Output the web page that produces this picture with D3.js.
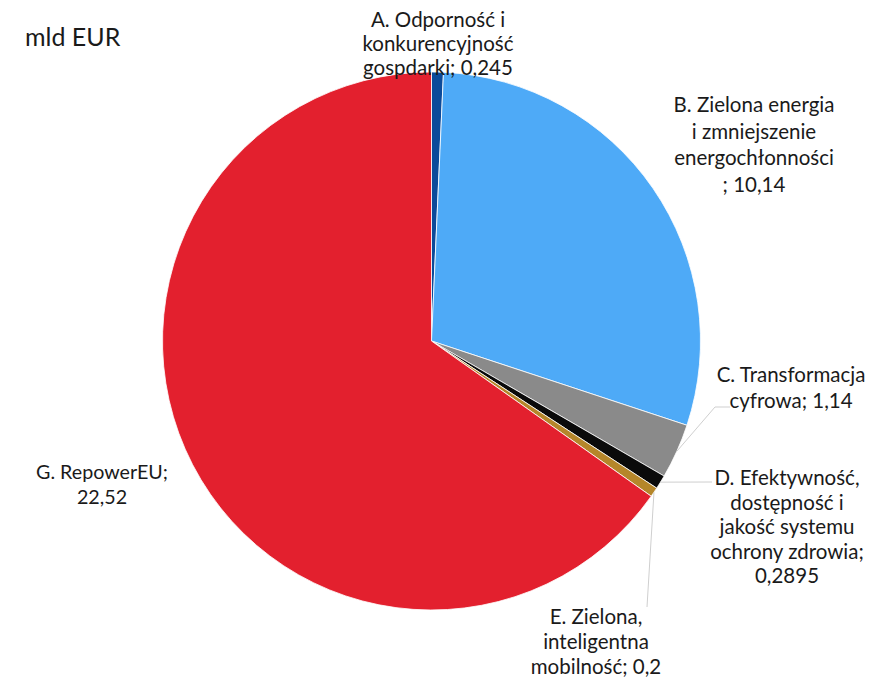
<!DOCTYPE html>
<html>
<head>
<meta charset="utf-8">
<script src="https://cdn.jsdelivr.net/npm/d3@7"></script>
<style>
  html, body { margin: 0; padding: 0; background: #fff; }
  svg { display: block; }
  text { font-family: Lato, "Open Sans", sans-serif; fill: #1a1a1a; }
</style>
</head>
<body>
<svg id="chart" width="877" height="677"></svg>
<script>
// Funding by component, bn EUR
const categories = [
  "A. Odporność i konkurencyjność gospdarki",
  "B. Zielona energia i zmniejszenie energochłonności",
  "C. Transformacja cyfrowa",
  "D. Efektywność, dostępność i jakość systemu ochrony zdrowia",
  "E. Zielona, inteligentna mobilność",
  "G. RepowerEU"
];
const values = [0.245, 10.14, 1.14, 0.2895, 0.2, 22.52];
const valueLabels = ["0,245", "10,14", "1,14", "0,2895", "0,2", "22,52"];
const labelLines = [
  ["A. Odporność i", "konkurencyjność", "gospdarki; 0,245"],
  ["B. Zielona energia", "i zmniejszenie", "energochłonności", "; 10,14"],
  ["C. Transformacja", "cyfrowa; 1,14"],
  ["D. Efektywność,", "dostępność i", "jakość systemu", "ochrony zdrowia;", "0,2895"],
  ["E. Zielona,", "inteligentna", "mobilność; 0,2"],
  ["G. RepowerEU;", "22,52"]
];
const unitTitle = "mld EUR";

// styling and layout
const colors = ["#0b4a9a", "#4eaaf7", "#8a8a8a", "#0a0a0a", "#b5862a", "#e3202e"];
const cx = 431.5, cy = 341, radius = 269;
// label anchor (centre x, first-line baseline y), line height, font size, leader elbow
const labelLayout = [
  { x: 438, y: 27, lh: 24, fs: 20.5, leader: null },
  { x: 754, y: 112, lh: 26.5, fs: 20.5, leader: null },
  { x: 791, y: 382, lh: 26, fs: 20.5, leader: [[730, 407], [715, 407]] },
  { x: 787, y: 485, lh: 24.5, fs: 20.5, leader: [[712, 482]] },
  { x: 596, y: 624, lh: 25, fs: 20.5, leader: [[647, 607]] },
  { x: 102, y: 479, lh: 25, fs: 19.7, leader: null }
];

const svg = d3.select("#chart");

svg.append("text")
  .attr("x", 25).attr("y", 46)
  .attr("font-size", 25)
  .text(unitTitle);

const pie = d3.pie().sort(null).value(d => d)
  .startAngle(0).endAngle(2 * Math.PI);
const arcs = pie(values);

const arc = d3.arc().innerRadius(0).outerRadius(radius);
const edgeArc = d3.arc().innerRadius(radius).outerRadius(radius);

const g = svg.append("g").attr("transform", `translate(${cx},${cy})`);

g.selectAll("path.slice")
  .data(arcs)
  .join("path")
  .attr("class", "slice")
  .attr("d", arc)
  .attr("fill", (d, i) => colors[i])
  .attr("stroke", "#ffffff")
  .attr("stroke-width", 0.8)
  .attr("stroke-linejoin", "round");

// leader lines from slice edge to label
arcs.forEach((d, i) => {
  const lay = labelLayout[i];
  if (!lay.leader) return;
  const [ex, ey] = edgeArc.centroid(d);
  const pts = [[cx + ex, cy + ey]].concat(lay.leader.slice().reverse());
  svg.append("path")
    .attr("d", d3.line()(pts))
    .attr("fill", "none")
    .attr("stroke", "#cfcfcf")
    .attr("stroke-width", 1);
});

// labels
labelLines.forEach((lines, i) => {
  const lay = labelLayout[i];
  const t = svg.append("text")
    .attr("text-anchor", "middle")
    .attr("font-size", lay.fs)
    .attr("x", lay.x).attr("y", lay.y);
  lines.forEach((ln, k) => {
    t.append("tspan")
      .attr("x", lay.x)
      .attr("y", lay.y + k * lay.lh)
      .text(ln);
  });
});
</script>
</body>
</html>
